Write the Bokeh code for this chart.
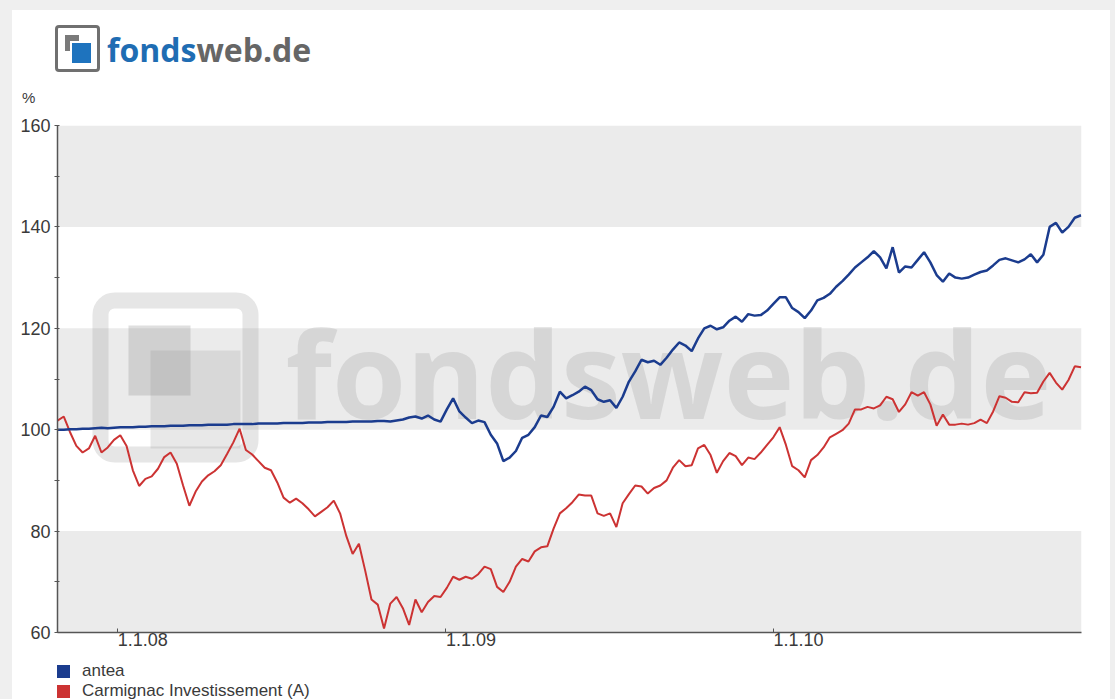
import pandas as pd
from bokeh.plotting import figure
from bokeh.models import (Range1d, FixedTicker, BoxAnnotation, Label, Spacer, ColumnDataSource,
                          CustomJSTickFormatter, DatetimeAxis, Div)
from bokeh.layouts import column, row
from bokeh.embed import file_html
from bokeh.resources import INLINE

# ---------------- data (weekly values, % indexed) ----------------
start_date = "2007-10-26"
series_names = ["antea", "Carmignac Investissement (A)"]

antea = [
    100.0, 100.0, 100.1, 100.1, 100.2, 100.2, 100.3, 100.4, 100.3, 100.4,
    100.5, 100.5, 100.5, 100.6, 100.6, 100.7, 100.7, 100.7, 100.8, 100.8,
    100.8, 100.9, 100.9, 100.9, 101.0, 101.0, 101.0, 101.0, 101.1, 101.1,
    101.1, 101.1, 101.2, 101.2, 101.2, 101.2, 101.3, 101.3, 101.3, 101.3,
    101.4, 101.4, 101.4, 101.5, 101.5, 101.5, 101.5, 101.6, 101.6, 101.6,
    101.6, 101.7, 101.7, 101.6, 101.8, 102.0, 102.4, 102.6, 102.2, 102.8,
    102.0, 101.6, 104.0, 106.2, 103.6, 102.4, 101.3, 101.8, 101.5, 99.0,
    97.3, 93.8, 94.5, 95.8, 98.4, 99.0, 100.5, 102.8, 102.5, 104.5,
    107.5, 106.2, 106.8, 107.5, 108.5, 107.8, 106.0, 105.5, 105.8, 104.3,
    106.5, 109.5, 111.5, 113.8, 113.3, 113.6, 112.8, 114.2, 115.8, 117.2,
    116.6, 115.5, 118.0, 120.0, 120.5, 119.8, 120.2, 121.5, 122.3, 121.3,
    122.8, 122.5, 122.6, 123.5, 124.8, 126.1, 126.1, 124.0, 123.2, 122.0,
    123.5, 125.5, 126.0, 126.8, 128.2, 129.3, 130.6, 132.0, 133.0, 134.0,
    135.2, 134.0, 131.8, 136.0, 131.0, 132.2, 132.0, 133.5, 135.0, 133.0,
    130.5, 129.2, 130.8, 130.0, 129.8, 130.0, 130.6, 131.1, 131.4, 132.4,
    133.5, 133.8, 133.4, 133.0, 133.6, 134.6, 133.0, 134.5, 140.0, 140.8,
    138.9, 140.0, 141.8, 142.3,
]

carmignac = [
    101.8, 102.6, 99.5, 96.8, 95.5, 96.3, 98.8, 95.5, 96.5, 98.0,
    98.9, 96.8, 92.0, 88.9, 90.3, 90.8, 92.3, 94.6, 95.5, 93.3,
    89.0, 85.0, 87.8, 89.8, 91.0, 91.8, 93.0, 95.2, 97.5, 100.2,
    96.0, 95.1, 93.8, 92.5, 92.0, 89.6, 86.6, 85.6, 86.4, 85.5,
    84.3, 82.9, 83.8, 84.7, 86.0, 83.5, 79.0, 75.5, 77.5, 72.2,
    66.5, 65.5, 60.8, 65.7, 67.0, 64.8, 61.5, 66.5, 64.0, 66.0,
    67.2, 67.0, 68.8, 71.0, 70.4, 71.0, 70.6, 71.5, 73.0, 72.5,
    69.0, 68.0, 70.0, 73.0, 74.5, 74.0, 76.0, 76.8, 77.0, 80.5,
    83.5, 84.5, 85.7, 87.2, 87.0, 87.0, 83.5, 83.0, 83.5, 80.8,
    85.5, 87.3, 89.0, 88.8, 87.4, 88.5, 89.0, 90.0, 92.5, 94.0,
    92.8, 93.0, 96.3, 97.0, 95.0, 91.5, 93.8, 95.4, 94.8, 93.0,
    94.5, 94.2, 95.5, 97.0, 98.5, 100.5, 97.0, 92.8, 92.0, 90.6,
    94.0, 95.0, 96.5, 98.5, 99.2, 99.9, 101.2, 104.0, 104.0, 104.5,
    104.2, 104.8, 106.5, 106.0, 103.5, 105.0, 107.4, 106.7, 107.4, 105.0,
    100.8, 103.0, 101.0, 101.0, 101.2, 101.0, 101.3, 102.0, 101.3, 103.6,
    106.6, 106.3, 105.5, 105.4, 107.4, 107.2, 107.3, 109.5, 111.2, 109.3,
    107.9, 109.8, 112.5, 112.3,
]

y_ticks = [60, 80, 100, 120, 140, 160]
y_minor_ticks = [70, 90, 110, 130, 150]
bands = [(60, 80), (100, 120), (140, 160)]
x_tick_dates = ["2008-01-01", "2009-01-01", "2010-01-01"]
x_tick_labels = ["1.1.08", "1.1.09", "1.1.10"]
x_start, x_end = "2007-10-26", "2010-12-10 12:00"
y_unit = "%"

dates = pd.date_range(start_date, periods=len(antea), freq="7D")

# ---------------- styles ----------------
BLUE = "#1b3c8e"
RED = "#cc3333"
TXT = "#3a3a3a"
FONT = "Liberation Sans"
WM = "#8c8c8c"
WM_A = 0.22
W = 1098

# ---------------- header with logo and unit (HTML) ----------------
header = Div(width=W, height=100, margin=0, styles={"background-color": "white"}, text=f"""
<div style="position:relative;width:{W}px;height:100px;">
  <div style="position:absolute;left:43px;top:15px;width:45px;height:47px;border:3px solid #707070;
              border-radius:4px;box-sizing:border-box;"></div>
  <div style="position:absolute;left:53px;top:25px;width:14px;height:16px;background:#7a7a7a;"></div>
  <div style="position:absolute;left:58px;top:31px;width:23px;height:24px;background:#1e73be;
              border:2px solid #ffffff;box-sizing:border-box;"></div>
  <div style="position:absolute;left:95px;top:24px;font-family:'Open Sans';font-weight:bold;
              font-size:32px;line-height:32px;white-space:nowrap;"><span style="color:#1f6db3">fonds</span><span style="color:#666666">web.de</span></div>
  <div style="position:absolute;left:10px;top:80px;font-family:'{FONT}';font-size:15px;
              line-height:15px;color:{TXT};">{y_unit}</div>
</div>
""")

# ---------------- main chart ----------------
p = figure(width=W, height=550, x_axis_type="datetime", title=None,
           x_range=Range1d(pd.Timestamp(x_start), pd.Timestamp(x_end)),
           y_range=Range1d(y_ticks[0], y_ticks[-1]),
           output_backend="svg", toolbar_location=None,
           min_border_left=45, min_border_right=29, min_border_top=15, min_border_bottom=28)
p.outline_line_color = None
p.grid.visible = False

for lo, hi in bands:
    p.add_layout(BoxAnnotation(bottom=lo, top=hi, fill_color="#ebebeb", fill_alpha=1,
                               line_color=None, level="underlay"))

# watermark (screen units relative to the plot frame)
p.add_layout(BoxAnnotation(left=43, right=193, bottom=178, top=332, left_units="screen",
                           right_units="screen", bottom_units="screen", top_units="screen",
                           fill_color=None, line_color=WM, line_alpha=WM_A, line_width=16,
                           border_radius=14, level="underlay"))
p.add_layout(BoxAnnotation(left=71, right=133, bottom=237, top=307, left_units="screen",
                           right_units="screen", bottom_units="screen", top_units="screen",
                           fill_color=WM, fill_alpha=0.28, line_color=None, level="underlay"))
p.add_layout(BoxAnnotation(left=93, right=183, bottom=184, top=282, left_units="screen",
                           right_units="screen", bottom_units="screen", top_units="screen",
                           fill_color=WM, fill_alpha=0.2, line_color=None, level="underlay"))
p.add_layout(Label(x=228, y=260, x_units="screen", y_units="screen", text="fondsweb.de",
                   text_font="Open Sans", text_font_style="bold", text_font_size="120px",
                   text_color=WM, text_alpha=WM_A, text_baseline="alphabetic", level="underlay"))

src = ColumnDataSource(dict(date=dates, antea=antea, carm=carmignac))
p.line("date", "carm", source=src, line_color=RED, line_width=2)
p.line("date", "antea", source=src, line_color=BLUE, line_width=2.5)

# axes
p.yaxis.ticker = FixedTicker(ticks=y_ticks, minor_ticks=y_minor_ticks)
p.yaxis.major_label_text_font = FONT
p.yaxis.major_label_text_font_size = "18px"
p.yaxis.major_label_text_color = TXT
p.yaxis.major_label_standoff = 4
p.yaxis.major_tick_in = 2
p.yaxis.major_tick_out = 3
p.yaxis.minor_tick_in = 2
p.yaxis.minor_tick_out = 3
p.yaxis.axis_line_color = "#555555"
p.yaxis.axis_line_width = 1.5
p.yaxis.major_tick_line_color = "#555555"
p.yaxis.minor_tick_line_color = "#555555"

x_tick_ms = [pd.Timestamp(d).value // 10**6 for d in x_tick_dates]
p.xaxis.ticker = FixedTicker(ticks=x_tick_ms, minor_ticks=[])
p.xaxis.formatter = CustomJSTickFormatter(code="return ''")
p.xaxis.major_label_standoff = 0
p.xaxis.major_tick_in = 4
p.xaxis.major_tick_out = 0
p.xaxis.minor_tick_in = 0
p.xaxis.minor_tick_out = 0
p.xaxis.axis_line_color = "#555555"
p.xaxis.axis_line_width = 1.5
p.xaxis.major_tick_line_color = "#555555"

# tick labels start at the tick (left-aligned): second axis carrying only the labels
LABEL_SHIFT_MS = 28 * 86400000
label_ticks = [t + LABEL_SHIFT_MS for t in x_tick_ms]
label_axis = DatetimeAxis(ticker=FixedTicker(ticks=label_ticks, minor_ticks=[]),
                          major_label_overrides={t: s for t, s in zip(label_ticks, x_tick_labels)},
                          axis_line_color=None, major_tick_line_color=None,
                          minor_tick_line_color=None, major_tick_in=0, major_tick_out=0,
                          minor_tick_in=0, minor_tick_out=0, major_label_standoff=0,
                          major_label_text_font=FONT, major_label_text_font_size="18px",
                          major_label_text_color=TXT)
p.add_layout(label_axis, "below")

# ---------------- legend (HTML) ----------------
colors = [BLUE, RED]
items = ""
for i, (name, c) in enumerate(zip(series_names, colors)):
    top = 5 + 20 * i
    items += (f'<div style="position:absolute;left:45px;top:{top}px;width:13px;height:13px;'
              f'background:{c};"></div>'
              f'<div style="position:absolute;left:70px;top:{top - 4}px;font-family:\'{FONT}\';'
              f'font-size:17px;line-height:20px;color:{TXT};white-space:nowrap;">{name}</div>')
legend_div = Div(width=W, height=39, margin=0, styles={"background-color": "white"},
                 text=f'<div style="position:relative;width:{W}px;height:39px;overflow:hidden;">{items}</div>')

inner = column(header, p, legend_div, spacing=0, styles={"background-color": "white"})
page = column(Spacer(width=1115, height=10), row(Spacer(width=12, height=689), inner),
              styles={"background-color": "#efefef"})

open("out.html", "w").write(file_html(page, INLINE))
